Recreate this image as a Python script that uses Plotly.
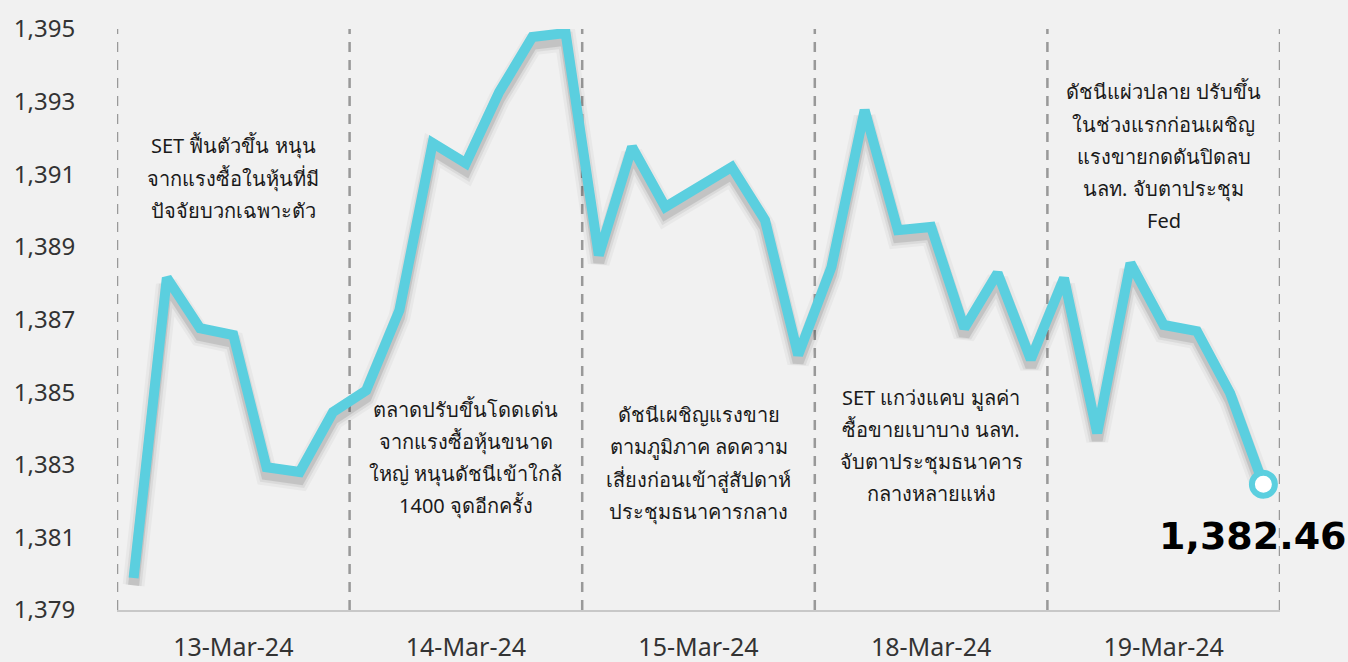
import plotly.graph_objects as go

# ---- data ----
days = ["13-Mar-24", "14-Mar-24", "15-Mar-24", "18-Mar-24", "19-Mar-24"]
points_per_day = 7
set_index = [
    1379.88, 1388.15, 1386.76, 1386.57, 1382.93, 1382.80, 1384.45,
    1385.05, 1387.26, 1391.86, 1391.30, 1393.26, 1394.78, 1394.89,
    1388.77, 1391.75, 1390.10, 1390.65, 1391.20, 1389.74, 1386.02,
    1388.44, 1392.77, 1389.46, 1389.55, 1386.76, 1388.28, 1385.90,
    1388.14, 1383.87, 1388.55, 1386.85, 1386.68, 1384.97, 1382.46,
]
notes = [
    ["SET ฟื้นตัวขึ้น หนุน", "จากแรงซื้อในหุ้นที่มี", "ปัจจัยบวกเฉพาะตัว"],
    ["ตลาดปรับขึ้นโดดเด่น", "จากแรงซื้อหุ้นขนาด", "ใหญ่ หนุนดัชนีเข้าใกล้", "1400 จุดอีกครั้ง"],
    ["ดัชนีเผชิญแรงขาย", "ตามภูมิภาค ลดความ", "เสี่ยงก่อนเข้าสู่สัปดาห์", "ประชุมธนาคารกลาง"],
    ["SET แกว่งแคบ มูลค่า", "ซื้อขายเบาบาง นลท.", "จับตาประชุมธนาคาร", "กลางหลายแห่ง"],
    ["ดัชนีแผ่วปลาย ปรับขึ้น", "ในช่วงแรกก่อนเผชิญ", "แรงขายกดดันปิดลบ", "นลท. จับตาประชุม", "Fed"],
]
note_first_line_y = [1391.78, 1384.53, 1384.38, 1384.86, 1393.27]
y_ticks = [1379, 1381, 1383, 1385, 1387, 1389, 1391, 1393, 1395]

x = list(range(len(set_index)))
day_centers = [i * points_per_day + points_per_day // 2 for i in range(len(days))]
boundaries = [i * points_per_day - 0.5 for i in range(len(days) + 1)]

LINE = "#5BCFDF"
BG = "#F1F1F1"
FONT = "Noto Sans, Roboto, sans-serif"
LINE_GAP = 32.2  # px between annotation lines

fig = go.Figure()

# soft shadow: same data on a hidden axis whose range is shifted slightly
for w, a in [(22, 0.035), (16, 0.06), (11, 0.10)]:
    fig.add_trace(go.Scatter(
        x=x, y=set_index, mode="lines", yaxis="y",
        line=dict(color=f"rgba(0,0,0,{a})", width=w),
        hoverinfo="skip", showlegend=False,
    ))

fig.add_trace(go.Scatter(
    x=x, y=set_index, mode="lines", yaxis="y2",
    line=dict(color=LINE, width=10),
    showlegend=False,
))
fig.add_trace(go.Scatter(
    x=[x[-1]], y=[set_index[-1]], mode="markers", yaxis="y2",
    marker=dict(size=23, color="white", line=dict(color=LINE, width=6)),
    showlegend=False,
))

for b in boundaries:
    fig.add_shape(type="line", xref="x", yref="paper", x0=b, x1=b, y0=0, y1=1,
                  line=dict(color="#999999", width=2.5, dash="10px,8px"), layer="below")

for cx, lines, y0 in zip(day_centers, notes, note_first_line_y):
    for k, t in enumerate(lines):
        fig.add_annotation(x=cx, y=y0, yref="y2", text=t, showarrow=False,
                           yshift=-k * LINE_GAP,
                           font=dict(size=20, color="#1a1a1a", family=FONT),
                           align="center", yanchor="middle")

fig.add_annotation(x=x[-1], y=set_index[-1], yref="y2",
                   text=f"<b>{set_index[-1]:,.2f}</b>",
                   showarrow=False, xshift=-10, yshift=-52,
                   font=dict(size=38, color="black", family="DejaVu Sans"),
                   xanchor="center", yanchor="middle")

fig.update_layout(
    width=1348, height=662,
    margin=dict(l=117, r=68, t=29, b=52, autoexpand=False),
    paper_bgcolor=BG, plot_bgcolor=BG,
    xaxis=dict(range=[-0.5, len(set_index) - 0.5], tickvals=day_centers, ticktext=days,
               automargin=False,
               showgrid=False, zeroline=False, showline=True, linecolor="#c8c8c8", linewidth=2,
               ticks="outside", ticklen=14, tickcolor="rgba(0,0,0,0)",
               tickfont=dict(size=25, color="#333333", family=FONT)),
    yaxis=dict(range=[1379.2, 1395.2], visible=False, showgrid=False, zeroline=False,
               automargin=False),
    yaxis2=dict(range=[1379, 1395], overlaying="y", side="left", tickvals=y_ticks,
                ticktext=[f"{v:,}" for v in y_ticks], automargin=False,
                showgrid=False, zeroline=False, showline=False,
                ticks="outside", ticklen=36, tickcolor="rgba(0,0,0,0)",
                tickfont=dict(size=24, color="#333333", family=FONT)),
)

fig.write_html("out.html", config={"displayModeBar": False},
               post_script="document.body.style.margin='0';document.body.style.background='#F1F1F1';")
